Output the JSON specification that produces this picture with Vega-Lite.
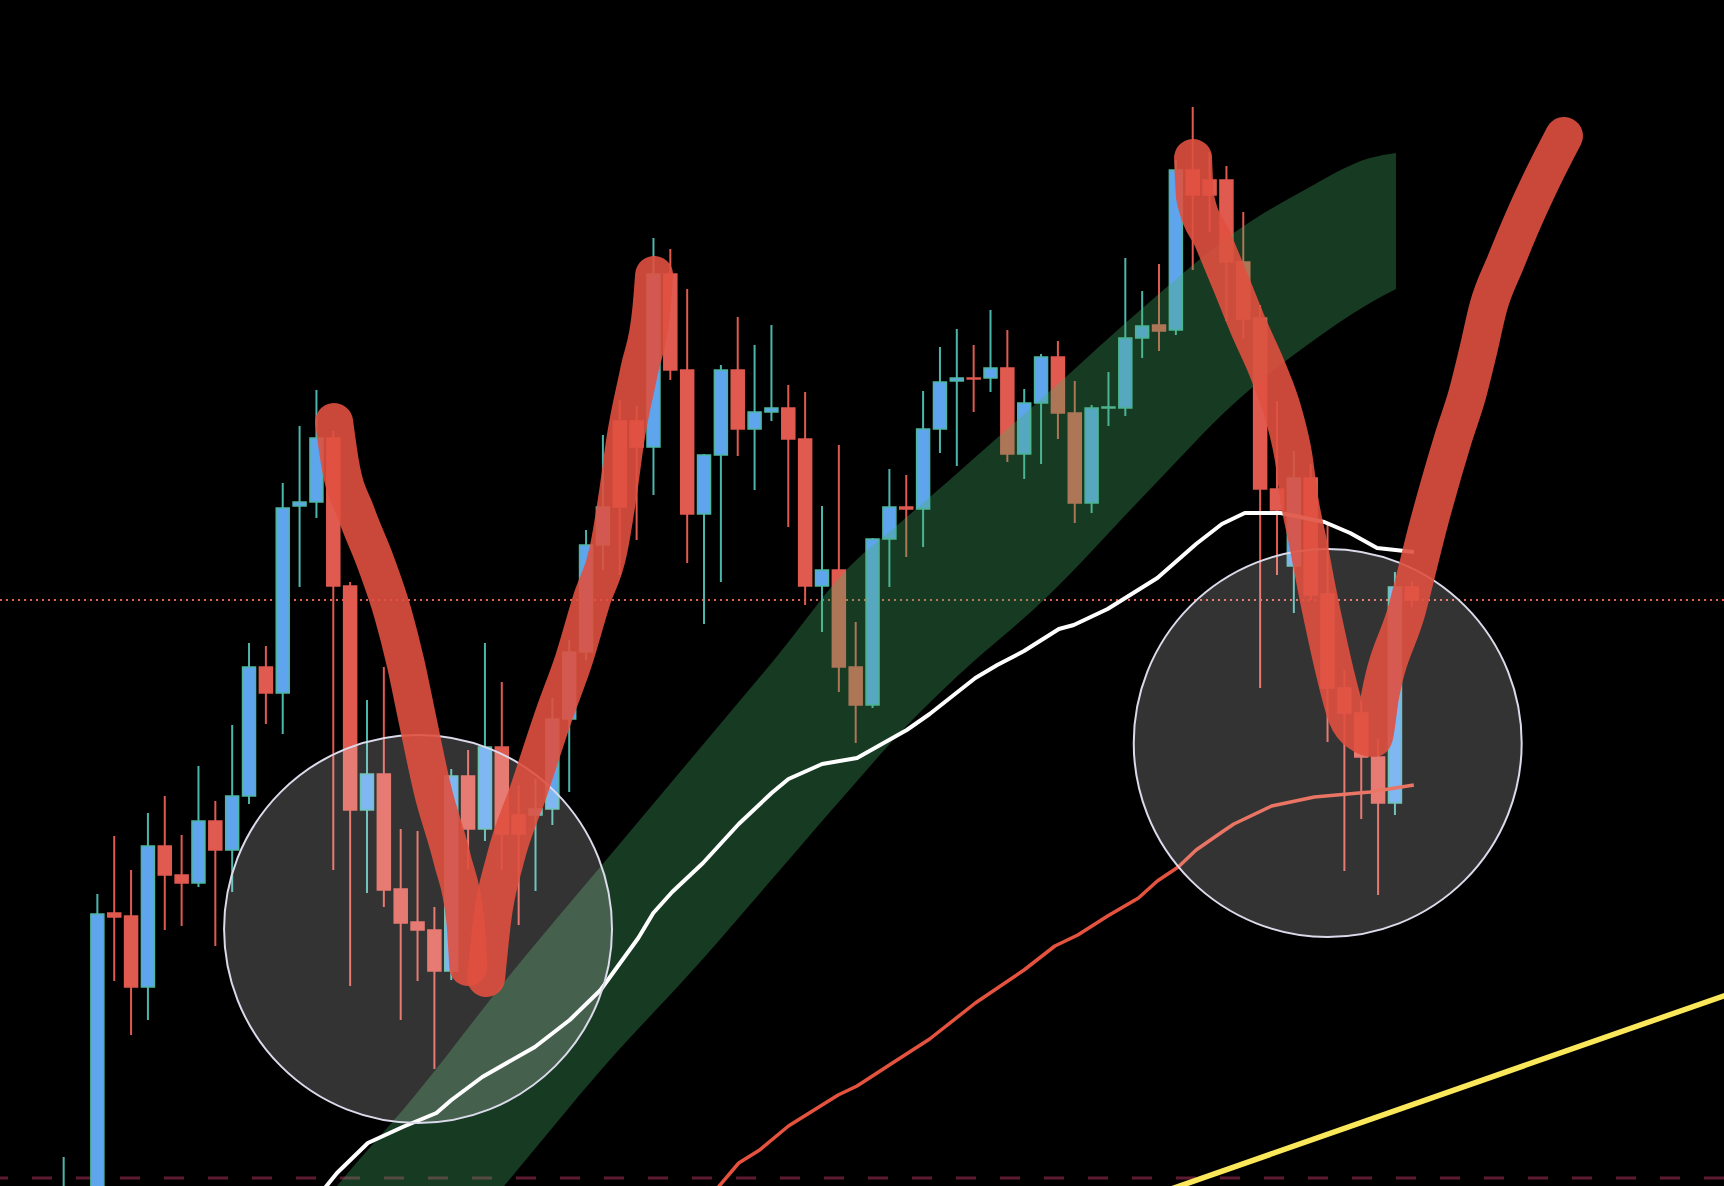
{
  "$schema": "https://vega.github.io/schema/vega-lite/v6.json",
  "width": 1724,
  "height": 1186,
  "padding": 0,
  "autosize": {"type": "none"},
  "background": "#000000",
  "config": {"view": {"stroke": null}},
  "datasets": {
    "candles": [
      {"i":0,"o":35,"h":44.3,"l":33,"c":40},
      {"i":2,"o":35,"h":70.6,"l":33,"c":68.6},
      {"i":3,"o":68.7,"h":76.4,"l":61.9,"c":68.3},
      {"i":4,"o":68.4,"h":73.0,"l":56.5,"c":61.3},
      {"i":5,"o":61.3,"h":78.7,"l":58.0,"c":75.4},
      {"i":6,"o":75.4,"h":80.4,"l":67.0,"c":72.5},
      {"i":7,"o":72.5,"h":76.5,"l":67.4,"c":71.7},
      {"i":8,"o":71.7,"h":83.4,"l":71.3,"c":77.9},
      {"i":9,"o":77.9,"h":79.9,"l":65.4,"c":75.0},
      {"i":10,"o":75.0,"h":87.5,"l":70.8,"c":80.4},
      {"i":11,"o":80.4,"h":95.7,"l":79.6,"c":93.3},
      {"i":12,"o":93.3,"h":95.4,"l":87.6,"c":90.7},
      {"i":13,"o":90.7,"h":111.7,"l":86.6,"c":109.2},
      {"i":14,"o":109.4,"h":117.4,"l":101.3,"c":109.8},
      {"i":15,"o":109.8,"h":121.0,"l":108.2,"c":116.2},
      {"i":16,"o":116.2,"h":116.9,"l":73.0,"c":101.4},
      {"i":17,"o":101.4,"h":101.8,"l":61.4,"c":79.0},
      {"i":18,"o":79.0,"h":90.0,"l":70.7,"c":82.6},
      {"i":19,"o":82.6,"h":93.3,"l":69.3,"c":71.0},
      {"i":20,"o":71.1,"h":77.1,"l":58.0,"c":67.7},
      {"i":21,"o":67.8,"h":76.9,"l":61.9,"c":67.0},
      {"i":22,"o":67.0,"h":69.3,"l":53.1,"c":62.9},
      {"i":23,"o":62.9,"h":83.1,"l":62.0,"c":82.4},
      {"i":24,"o":82.4,"h":85.0,"l":73.0,"c":77.1},
      {"i":25,"o":77.1,"h":95.7,"l":75.9,"c":85.3},
      {"i":26,"o":85.3,"h":91.8,"l":73.0,"c":76.6},
      {"i":27,"o":78.5,"h":81.5,"l":67.5,"c":76.6},
      {"i":28,"o":78.5,"h":82.1,"l":70.9,"c":79.1},
      {"i":29,"o":79.1,"h":90.2,"l":77.5,"c":88.1},
      {"i":30,"o":88.1,"h":96.0,"l":80.8,"c":94.8},
      {"i":31,"o":94.8,"h":107.0,"l":94.0,"c":105.5},
      {"i":32,"o":105.5,"h":116.5,"l":103.0,"c":109.3},
      {"i":33,"o":117.9,"h":120.0,"l":102.5,"c":109.3},
      {"i":34,"o":117.9,"h":119.4,"l":106.0,"c":115.3},
      {"i":35,"o":115.3,"h":136.2,"l":110.5,"c":132.6},
      {"i":36,"o":132.6,"h":135.1,"l":122.0,"c":123.0},
      {"i":37,"o":123.0,"h":131.1,"l":103.7,"c":108.6},
      {"i":38,"o":108.6,"h":114.6,"l":97.6,"c":114.5},
      {"i":39,"o":114.5,"h":123.5,"l":101.8,"c":123.0},
      {"i":40,"o":123.0,"h":128.3,"l":114.4,"c":117.1},
      {"i":41,"o":117.1,"h":125.5,"l":111.0,"c":118.8},
      {"i":42,"o":118.8,"h":127.5,"l":117.9,"c":119.2},
      {"i":43,"o":119.2,"h":121.5,"l":107.3,"c":116.1},
      {"i":44,"o":116.1,"h":120.8,"l":99.5,"c":101.4},
      {"i":45,"o":101.4,"h":109.4,"l":96.8,"c":103.0},
      {"i":46,"o":103.0,"h":115.5,"l":90.8,"c":93.3},
      {"i":47,"o":93.3,"h":97.8,"l":85.7,"c":89.5},
      {"i":48,"o":89.5,"h":106.2,"l":89.2,"c":106.1},
      {"i":49,"o":106.1,"h":113.1,"l":101.3,"c":109.3},
      {"i":50,"o":109.3,"h":112.5,"l":104.3,"c":109.1},
      {"i":51,"o":109.1,"h":120.9,"l":105.3,"c":117.1},
      {"i":52,"o":117.1,"h":125.3,"l":114.7,"c":121.8},
      {"i":53,"o":121.9,"h":127.1,"l":113.4,"c":122.2},
      {"i":54,"o":122.2,"h":125.5,"l":118.8,"c":122.1},
      {"i":55,"o":122.2,"h":129.0,"l":120.8,"c":123.2},
      {"i":56,"o":123.2,"h":127.0,"l":113.8,"c":114.6},
      {"i":57,"o":114.6,"h":121.1,"l":112.1,"c":119.7},
      {"i":58,"o":119.7,"h":124.6,"l":113.6,"c":124.3},
      {"i":59,"o":124.3,"h":125.9,"l":116.1,"c":118.7},
      {"i":60,"o":118.7,"h":121.9,"l":107.7,"c":109.7},
      {"i":61,"o":109.7,"h":119.5,"l":108.7,"c":119.2},
      {"i":62,"o":119.2,"h":122.8,"l":117.4,"c":119.3},
      {"i":63,"o":119.2,"h":134.2,"l":118.4,"c":126.2},
      {"i":64,"o":126.2,"h":130.9,"l":124.2,"c":127.4},
      {"i":65,"o":127.5,"h":133.6,"l":124.9,"c":126.9},
      {"i":66,"o":127.0,"h":144.0,"l":126.5,"c":143.0},
      {"i":67,"o":143.0,"h":149.3,"l":133.0,"c":140.5},
      {"i":68,"o":142.0,"h":144.8,"l":136.8,"c":140.5},
      {"i":69,"o":142.0,"h":143.4,"l":127.9,"c":133.8},
      {"i":70,"o":133.8,"h":138.8,"l":126.1,"c":128.1},
      {"i":71,"o":128.2,"h":129.5,"l":91.2,"c":111.1},
      {"i":72,"o":111.1,"h":119.9,"l":102.5,"c":109.0},
      {"i":73,"o":103.4,"h":114.9,"l":98.7,"c":112.2},
      {"i":74,"o":112.2,"h":113.6,"l":100.0,"c":100.5},
      {"i":75,"o":100.6,"h":107.7,"l":85.8,"c":91.2},
      {"i":76,"o":91.2,"h":93.0,"l":72.9,"c":88.7},
      {"i":77,"o":88.7,"h":90.0,"l":78.1,"c":84.3},
      {"i":78,"o":84.3,"h":86.1,"l":70.5,"c":79.7},
      {"i":79,"o":79.7,"h":102.8,"l":78.5,"c":101.3},
      {"i":80,"o":101.3,"h":101.8,"l":99.3,"c":100.0}
    ],
    "band": [
      {"i":15.40,"up":39.7,"lo":19.8},
      {"i":16.22,"up":41.4,"lo":21.4},
      {"i":20.77,"up":50.3,"lo":30.6},
      {"i":26.43,"up":62.4,"lo":42.0},
      {"i":32.04,"up":73.7,"lo":53.3},
      {"i":37.82,"up":85.3,"lo":63.9},
      {"i":42.30,"up":94.3,"lo":72.6},
      {"i":46.67,"up":103.4,"lo":81.1},
      {"i":49.62,"up":107.7,"lo":86.7},
      {"i":52.57,"up":112.0,"lo":91.65},
      {"i":58.47,"up":120.8,"lo":100.5},
      {"i":64.37,"up":129.7,"lo":110.9},
      {"i":69.68,"up":137.0,"lo":120.0},
      {"i":73.63,"up":141.0,"lo":125.3},
      {"i":77.52,"up":144.2,"lo":129.7},
      {"i":79.06,"up":144.7,"lo":131.1}
    ],
    "sma": [
      {"i":15.40,"p":41.0},{"i":16.22,"p":42.7},{"i":18.05,"p":45.7},{"i":20.12,"p":47.3},
      {"i":22.12,"p":48.7},{"i":23.01,"p":50.0},{"i":24.84,"p":52.3},{"i":27.96,"p":55.3},
      {"i":30.03,"p":58.0},{"i":31.86,"p":61.0},{"i":34.10,"p":66.2},{"i":34.99,"p":68.7},
      {"i":36.11,"p":70.8},{"i":37.94,"p":73.7},{"i":40.06,"p":77.6},{"i":42.01,"p":80.7},
      {"i":43.01,"p":82.1},{"i":45.01,"p":83.6},{"i":47.08,"p":84.2},{"i":50.03,"p":87.0},
      {"i":51.39,"p":88.6},{"i":54.10,"p":92.2},{"i":55.40,"p":93.5},{"i":56.99,"p":94.9},
      {"i":59.06,"p":97.1},{"i":59.94,"p":97.5},{"i":61.95,"p":99.1},{"i":64.90,"p":102.2},
      {"i":67.20,"p":105.6},{"i":68.73,"p":107.6},{"i":70.09,"p":108.7},{"i":72.21,"p":108.7},
      {"i":74.81,"p":107.8},{"i":76.34,"p":106.7},{"i":77.94,"p":105.2},{"i":80.12,"p":104.8}
    ],
    "ema": [
      {"i":38.70,"p":41.0},{"i":40.06,"p":43.7},{"i":41.30,"p":45.0},{"i":43.01,"p":47.4},
      {"i":45.96,"p":50.5},{"i":47.08,"p":51.4},{"i":49.09,"p":53.6},{"i":51.39,"p":56.1},
      {"i":54.10,"p":59.7},{"i":56.99,"p":63.0},{"i":58.82,"p":65.4},{"i":60.18,"p":66.5},
      {"i":61.95,"p":68.4},{"i":63.78,"p":70.2},{"i":64.90,"p":71.9},{"i":66.14,"p":73.3},
      {"i":67.20,"p":75.0},{"i":68.91,"p":77.0},{"i":69.44,"p":77.6},{"i":71.68,"p":79.4},
      {"i":74.22,"p":80.3},{"i":77.52,"p":80.8},{"i":80.12,"p":81.5}
    ],
    "trend": [
      {"i":65.55,"p":41.0},{"i":99.17,"p":60.8}
    ],
    "zones": [
      {"i":21.03,"p":67.1},{"i":75.01,"p":85.7}
    ],
    "strokes": [
      {"s":"a","i":16.05,"p":117.8},{"s":"a","i":16.40,"p":113.7},{"s":"a","i":17.35,"p":108.7},
      {"s":"a","i":18.53,"p":103.7},{"s":"a","i":19.53,"p":98.7},{"s":"a","i":20.29,"p":93.7},
      {"s":"a","i":21.00,"p":88.0},{"s":"a","i":21.89,"p":81.0},{"s":"a","i":23.07,"p":74.0},
      {"s":"a","i":23.83,"p":68.0},{"s":"a","i":24.01,"p":63.3},
      {"s":"b","i":25.07,"p":62.2},{"s":"b","i":25.43,"p":68.0},{"s":"b","i":26.19,"p":74.0},
      {"s":"b","i":27.61,"p":81.0},{"s":"b","i":29.09,"p":88.5},{"s":"b","i":30.27,"p":94.0},
      {"s":"b","i":31.33,"p":100.0},{"s":"b","i":32.33,"p":105.0},{"s":"b","i":32.92,"p":111.0},
      {"s":"b","i":33.33,"p":116.0},{"s":"b","i":34.16,"p":123.0},{"s":"b","i":34.87,"p":129.0},
      {"s":"b","i":35.04,"p":132.5},
      {"s":"c","i":67.02,"p":144.2},{"s":"c","i":67.14,"p":140.3},{"s":"c","i":68.20,"p":136.0},
      {"s":"c","i":69.26,"p":131.7},{"s":"c","i":70.32,"p":127.3},{"s":"c","i":71.45,"p":123.0},
      {"s":"c","i":72.39,"p":118.6},{"s":"c","i":72.98,"p":114.3},{"s":"c","i":73.33,"p":110.0},
      {"s":"c","i":73.86,"p":105.6},{"s":"c","i":74.34,"p":101.3},{"s":"c","i":74.87,"p":97.0},
      {"s":"c","i":75.46,"p":92.6},{"s":"c","i":76.17,"p":88.3},{"s":"c","i":76.93,"p":86.7},
      {"s":"c","i":77.70,"p":86.2},
      {"s":"c","i":78.11,"p":90.3},{"s":"c","i":79.71,"p":99.0},{"s":"c","i":81.00,"p":107.6},
      {"s":"c","i":82.48,"p":116.3},{"s":"c","i":83.30,"p":120.6},{"s":"c","i":83.95,"p":125.0},
      {"s":"c","i":84.54,"p":129.3},{"s":"c","i":85.55,"p":133.7},{"s":"c","i":86.61,"p":138.0},
      {"s":"c","i":87.79,"p":142.3},{"s":"c","i":89.03,"p":146.4}
    ]
  },
  "layer": [
    {
      "data": {"values": [{"p": 42.2}]},
      "mark": {"type": "rule", "color": "#5E1A33", "strokeWidth": 3, "strokeDash": [20, 24]},
      "encoding": {
        "y": {"field": "p", "type": "quantitative", "scale": {"domain": [41.4, 160], "nice": false, "zero": false}, "axis": null}
      }
    },
    {
      "data": {"values": [{"p": 100}]},
      "mark": {"type": "rule", "color": "#E0604E", "strokeWidth": 2, "strokeDash": [2, 4]},
      "encoding": {
        "y": {"field": "p", "type": "quantitative", "scale": {"domain": [41.4, 160], "nice": false, "zero": false}, "axis": null}
      }
    },
    {
      "data": {"name": "candles"},
      "mark": {"type": "rule", "strokeWidth": 2, "clip": true},
      "encoding": {
        "x": {"field": "i", "type": "quantitative", "scale": {"domain": [-3.481, 98.23], "nice": false, "zero": false}, "axis": null},
        "y": {"field": "l", "type": "quantitative", "scale": {"domain": [41.4, 160], "nice": false, "zero": false}, "axis": null},
        "y2": {"field": "h"},
        "color": {"condition": {"test": "datum.c >= datum.o", "value": "#4DB6AC"}, "value": "#E05A50"}
      }
    },
    {
      "data": {"name": "candles"},
      "mark": {"type": "bar", "size": 13, "strokeWidth": 1.5, "clip": true},
      "encoding": {
        "x": {"field": "i", "type": "quantitative", "scale": {"domain": [-3.481, 98.23], "nice": false, "zero": false}, "axis": null},
        "y": {"field": "o", "type": "quantitative", "scale": {"domain": [41.4, 160], "nice": false, "zero": false}, "axis": null},
        "y2": {"field": "c"},
        "fill": {"condition": {"test": "datum.c >= datum.o", "value": "#5EA5EE"}, "value": "#E05A50"},
        "stroke": {"condition": {"test": "datum.c >= datum.o", "value": "#4DB6A0"}, "value": "#E05A50"}
      }
    },
    {
      "data": {"name": "band"},
      "mark": {"type": "area", "color": "#46B067", "opacity": 0.33, "interpolate": "monotone", "clip": true},
      "encoding": {
        "x": {"field": "i", "type": "quantitative", "scale": {"domain": [-3.481, 98.23], "nice": false, "zero": false}, "axis": null},
        "y": {"field": "lo", "type": "quantitative", "scale": {"domain": [41.4, 160], "nice": false, "zero": false}, "axis": null},
        "y2": {"field": "up"}
      }
    },
    {
      "data": {"name": "trend"},
      "mark": {"type": "line", "color": "#FBE75A", "strokeWidth": 5.5, "clip": true},
      "encoding": {
        "x": {"field": "i", "type": "quantitative", "scale": {"domain": [-3.481, 98.23], "nice": false, "zero": false}, "axis": null},
        "y": {"field": "p", "type": "quantitative", "scale": {"domain": [41.4, 160], "nice": false, "zero": false}, "axis": null}
      }
    },
    {
      "data": {"name": "sma"},
      "mark": {"type": "line", "color": "#FFFFFF", "strokeWidth": 4, "strokeJoin": "round", "clip": true},
      "encoding": {
        "x": {"field": "i", "type": "quantitative", "scale": {"domain": [-3.481, 98.23], "nice": false, "zero": false}, "axis": null},
        "y": {"field": "p", "type": "quantitative", "scale": {"domain": [41.4, 160], "nice": false, "zero": false}, "axis": null}
      }
    },
    {
      "data": {"name": "ema"},
      "mark": {"type": "line", "color": "#E5533F", "strokeWidth": 3.5, "strokeJoin": "round", "clip": true},
      "encoding": {
        "x": {"field": "i", "type": "quantitative", "scale": {"domain": [-3.481, 98.23], "nice": false, "zero": false}, "axis": null},
        "y": {"field": "p", "type": "quantitative", "scale": {"domain": [41.4, 160], "nice": false, "zero": false}, "axis": null}
      }
    },
    {
      "data": {"name": "zones"},
      "mark": {"type": "point", "shape": "circle", "size": 150500, "filled": true, "fill": "#FFFFFF", "fillOpacity": 0.2, "stroke": "#DADAEA", "strokeOpacity": 1, "strokeWidth": 2, "opacity": 1},
      "encoding": {
        "x": {"field": "i", "type": "quantitative", "scale": {"domain": [-3.481, 98.23], "nice": false, "zero": false}, "axis": null},
        "y": {"field": "p", "type": "quantitative", "scale": {"domain": [41.4, 160], "nice": false, "zero": false}, "axis": null}
      }
    },
    {
      "data": {"name": "strokes"},
      "mark": {"type": "line", "color": "#E0503F", "opacity": 0.9, "strokeWidth": 38, "strokeCap": "round", "strokeJoin": "round", "interpolate": "monotone", "clip": true},
      "encoding": {
        "x": {"field": "i", "type": "quantitative", "scale": {"domain": [-3.481, 98.23], "nice": false, "zero": false}, "axis": null},
        "y": {"field": "p", "type": "quantitative", "scale": {"domain": [41.4, 160], "nice": false, "zero": false}, "axis": null},
        "detail": {"field": "s", "type": "nominal"}
      }
    }
  ]
}
